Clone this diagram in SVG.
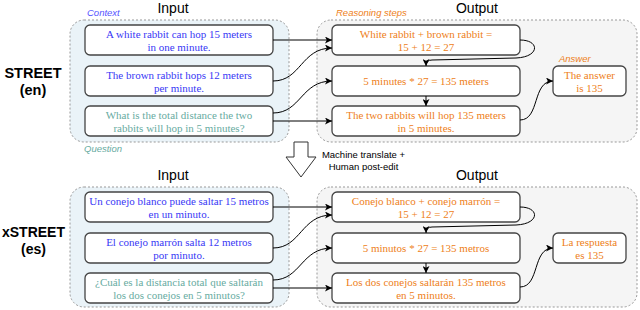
<svg xmlns="http://www.w3.org/2000/svg" width="640" height="310" viewBox="0 0 640 310">
<style>
.grpIn{fill:#EAF3F8;stroke:#999;stroke-width:1;stroke-dasharray:2 2}
.grpOut{fill:#F5F5F5;stroke:#999;stroke-width:1;stroke-dasharray:2 2}
.box{fill:#fff;stroke:#444;stroke-width:1.3}
.t{font-family:"Liberation Serif","Times New Roman",serif;font-size:11px;text-anchor:middle}
.ctx{fill:#3838F5}
.q{fill:#67AB9F}
.o{fill:#EE8020}
.title{font-family:"Liberation Sans",Arial,sans-serif;font-size:14px;text-anchor:middle;fill:#000}
.lab{font-family:"Liberation Sans",Arial,sans-serif;font-size:9.5px;font-style:italic}
.big{font-family:"Liberation Sans",Arial,sans-serif;font-size:14.5px;font-weight:bold;text-anchor:middle;fill:#000}
.note{font-family:"Liberation Sans",Arial,sans-serif;font-size:9.5px;text-anchor:middle;fill:#000}
.c{fill:none;stroke:#000;stroke-width:1;marker-end:url(#arr)}
</style>
<defs>
<marker id="arr" viewBox="0 0 10 10" refX="10" refY="5" markerWidth="7" markerHeight="7" markerUnits="userSpaceOnUse" orient="auto">
<path d="M0,0 L10,5 L0,10 L2.5,5 Z" fill="#000"/>
</marker>
</defs>

<!-- ===== Top: STREET (en) ===== -->
<g id="label-street">
<text class="big" x="33" y="78">STREET</text>
<text class="big" x="33" y="95">(en)</text>
</g>
<g id="input-group-en">
<rect class="grpIn" x="70" y="20" width="219" height="122" rx="14"/>
<text class="title" x="173" y="13">Input</text>
<text class="lab ctx" x="87" y="16" style="fill:#5555FF">Context</text>
<text class="lab q" x="84" y="152">Question</text>
</g>
<g id="output-group-en">
<rect class="grpOut" x="317" y="20" width="320" height="122" rx="14"/>
<text class="title" x="477" y="13">Output</text>
<text class="lab o" x="336" y="16">Reasoning steps</text>
<text class="lab o" x="559" y="62">Answer</text>
</g>
<g id="en-ctx1">
<rect class="box" x="85" y="25" width="188" height="30" rx="5"/>
<text class="t ctx" x="179" y="37.5">A white rabbit can hop 15 meters</text>
<text class="t ctx" x="179" y="50.5">in one minute.</text>
</g>
<g id="en-ctx2">
<rect class="box" x="85" y="66" width="188" height="30" rx="5"/>
<text class="t ctx" x="179" y="78.5">The brown rabbit hops 12 meters</text>
<text class="t ctx" x="179" y="91.5">per minute.</text>
</g>
<g id="en-question">
<rect class="box" x="85" y="106" width="188" height="30" rx="5"/>
<text class="t q" x="179" y="118.5">What is the total distance the two</text>
<text class="t q" x="179" y="131.5">rabbits will hop in 5 minutes?</text>
</g>
<g id="en-step1">
<rect class="box" x="332" y="25" width="188" height="30" rx="5"/>
<text class="t o" x="426" y="37.5">White rabbit + brown rabbit =</text>
<text class="t o" x="426" y="50.5">15 + 12 = 27</text>
</g>
<g id="en-step2">
<rect class="box" x="332" y="66" width="188" height="30" rx="5"/>
<text class="t o" x="426" y="85">5 minutes * 27 = 135 meters</text>
</g>
<g id="en-step3">
<rect class="box" x="332" y="106" width="188" height="30" rx="5"/>
<text class="t o" x="426" y="118.5">The two rabbits will hop 135 meters</text>
<text class="t o" x="426" y="131.5">in 5 minutes.</text>
</g>
<g id="en-answer">
<rect class="box" x="553" y="66" width="73" height="30" rx="5"/>
<text class="t o" x="589.5" y="78.5">The answer</text>
<text class="t o" x="589.5" y="91.5">is 135</text>
</g>

<!-- ===== Translation arrow ===== -->
<g id="translate">
<path d="M294,142 L308,142 L308,157 L316,157 L301,177 L286,157 L294,157 Z" fill="#fff" stroke="#333" stroke-width="1"/>
<text class="note" x="363.5" y="158">Machine translate +</text>
<text class="note" x="363.5" y="170">Human post-edit</text>
</g>

<!-- ===== Bottom: xSTREET (es) ===== -->
<g id="label-xstreet">
<text class="big" x="33.5" y="237" style="font-size:14px">xSTREET</text>
<text class="big" x="33.5" y="254" style="font-size:14px">(es)</text>
</g>
<g id="input-group-es">
<rect class="grpIn" x="70" y="187" width="219" height="120" rx="14"/>
<text class="title" x="173" y="180">Input</text>
</g>
<g id="output-group-es">
<rect class="grpOut" x="317" y="187" width="320" height="120" rx="14"/>
<text class="title" x="477" y="180">Output</text>
</g>
<g id="es-ctx1">
<rect class="box" x="85" y="192" width="188" height="30" rx="5"/>
<text class="t ctx" x="179" y="204.5">Un conejo blanco puede saltar 15 metros</text>
<text class="t ctx" x="179" y="217.5">en un minuto.</text>
</g>
<g id="es-ctx2">
<rect class="box" x="85" y="233" width="188" height="30" rx="5"/>
<text class="t ctx" x="179" y="245.5">El conejo marrón salta 12 metros</text>
<text class="t ctx" x="179" y="258.5">por minuto.</text>
</g>
<g id="es-question">
<rect class="box" x="85" y="273" width="188" height="30" rx="5"/>
<text class="t q" x="179" y="285.5">¿Cuál es la distancia total que saltarán</text>
<text class="t q" x="179" y="298.5">los dos conejos en 5 minutos?</text>
</g>
<g id="es-step1">
<rect class="box" x="332" y="192" width="188" height="30" rx="5"/>
<text class="t o" x="426" y="204.5">Conejo blanco + conejo marrón =</text>
<text class="t o" x="426" y="217.5">15 + 12 = 27</text>
</g>
<g id="es-step2">
<rect class="box" x="332" y="233" width="188" height="30" rx="5"/>
<text class="t o" x="426" y="252">5 minutos * 27 = 135 metros</text>
</g>
<g id="es-step3">
<rect class="box" x="332" y="273" width="188" height="30" rx="5"/>
<text class="t o" x="426" y="285.5">Los dos conejos saltarán 135 metros</text>
<text class="t o" x="426" y="298.5">en 5 minutos.</text>
</g>
<g id="es-answer">
<rect class="box" x="553" y="233" width="73" height="30" rx="5"/>
<text class="t o" x="589.5" y="245.5">La respuesta</text>
<text class="t o" x="589.5" y="258.5">es 135</text>
</g>

<!-- ===== Connectors ===== -->
<g id="connectors">
<path class="c" d="M273,40 L332,40"/>
<path class="c" d="M273,81 C301,81 301,48 332,48"/>
<path class="c" d="M273,113 C301,113 301,81 332,81"/>
<path class="c" d="M273,121 L332,121"/>
<path class="c" d="M520,40 C540,40 540,57 516,58 L432,60 Q426,60 426,66"/>
<path class="c" d="M426,96 L426,106"/>
<path class="c" d="M520,120 C540,120 532,81 553,81"/>

<path class="c" d="M273,207 L332,207"/>
<path class="c" d="M273,248 C301,248 301,215 332,215"/>
<path class="c" d="M273,280 C301,280 301,248 332,248"/>
<path class="c" d="M273,288 L332,288"/>
<path class="c" d="M520,207 C540,207 540,224 516,225 L432,227 Q426,227 426,233"/>
<path class="c" d="M426,263 L426,273"/>
<path class="c" d="M520,287 C540,287 532,248 553,248"/>
</g>
</svg>
